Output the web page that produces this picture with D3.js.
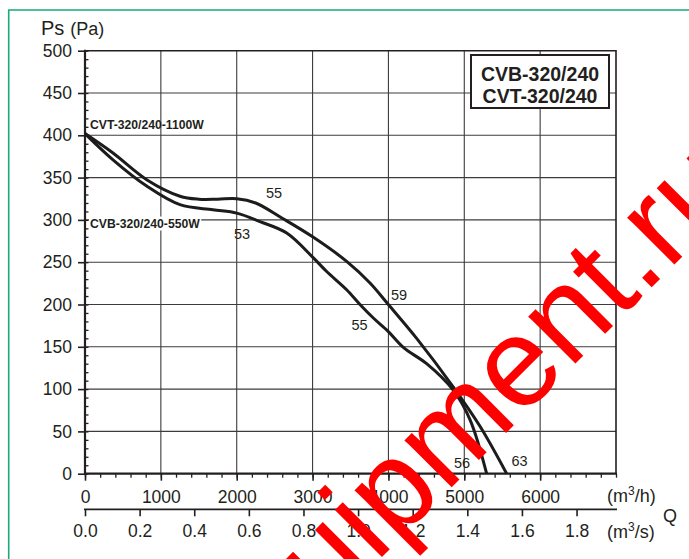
<!DOCTYPE html>
<html><head><meta charset="utf-8">
<script src="https://cdn.jsdelivr.net/npm/d3@7"></script>
<style>
body{margin:0;background:#fff}
svg{display:block}
text{font-family:"Liberation Sans",Arial,sans-serif;fill:#231f20}
</style>
</head><body>
<svg id="chart" width="689" height="559"></svg>
<script>
// ---- data ----
const flowTicksH = [0, 1000, 2000, 3000, 4000, 5000, 6000];
const flowTicksS = [0.0, 0.2, 0.4, 0.6, 0.8, 1.0, 1.2, 1.4, 1.6, 1.8];
const pressureTicks = [0, 50, 100, 150, 200, 250, 300, 350, 400, 450, 500];

const cvtFlow = [0, 369, 813, 1252, 1500, 1750, 2000, 2250, 2600, 3001, 3449, 3757, 3999, 4372, 4851, 5207, 5559];
const cvtPressure = [402, 379, 347.5, 328, 324.5, 324.5, 325, 320, 302, 280, 251, 225.5, 200, 160, 103, 56, 0];

const cvbFlow = [0, 369, 813, 1252, 1687, 2000, 2307, 2659, 3001, 3186, 3449, 3625, 3801, 3999, 4200, 4504, 4851, 5075, 5295];
const cvbPressure = [402, 371, 340, 318, 312, 308, 298, 284.5, 256, 239, 217.5, 200, 184, 168, 149, 130, 99, 64, 0];

const noiseLabels = ["55", "53", "59", "55", "56", "63"];
const noiseFlow = [2491, 2070, 4139, 3619, 4970, 5728];
const noisePressure = [326, 278, 205, 170, 7, 9];

const modelNames = ["CVB-320/240", "CVT-320/240"];
const curveNames = ["CVT-320/240-1100W", "CVB-320/240-550W"];
const curveNamePressure = [408, 291];

// ---- layout ----
const svg = d3.select("#chart");
const L = 85, R = 616, T = 50.7, B = 473.7;
const qMax = 7000;
const x = d3.scaleLinear().domain([0, qMax]).range([L, R]);
const xs = d3.scaleLinear().domain([0, qMax / 3600]).range([L, R]);
const y = d3.scaleLinear().domain([0, 500]).range([B, T]);
const ink = "#231f20";

// green frame
svg.append("path").attr("d", `M8.7,561 V10 H691`).attr("fill", "none")
  .attr("stroke", "#1aa97b").attr("stroke-width", 1.6);

// grid
const grid = svg.append("g").attr("stroke", "#3c3c3c").attr("stroke-width", 1.1);
grid.selectAll("line.v").data(flowTicksH.filter(d => d > 0)).join("line")
  .attr("x1", d => x(d)).attr("x2", d => x(d)).attr("y1", T).attr("y2", B);
grid.selectAll("line.h").data(pressureTicks.filter(d => d > 0 && d < 500)).join("line")
  .attr("x1", L).attr("x2", R).attr("y1", d => y(d)).attr("y2", d => y(d));

// frame top / right
svg.append("path").attr("d", `M${L},${T} H${R} V${B}`).attr("fill", "none")
  .attr("stroke", ink).attr("stroke-width", 1.6);

// y axis
const yAxis = svg.append("g").attr("transform", `translate(${L},0)`)
  .call(d3.axisLeft(y).tickValues(pressureTicks).tickSize(7).tickPadding(6).tickFormat(d3.format("d")));
yAxis.select(".domain").remove();
yAxis.selectAll("line").attr("stroke", ink).attr("stroke-width", 1.6);
yAxis.selectAll("text").attr("font-size", 17.5).attr("fill", ink).attr("font-family", "Liberation Sans, Arial, sans-serif");
const yMinor = svg.append("g").attr("transform", `translate(${L},0)`)
  .call(d3.axisRight(y).tickValues(d3.range(0, 501, 10)).tickSize(3.5).tickFormat(""));
yMinor.select(".domain").remove();
yMinor.selectAll("line").attr("stroke", ink).attr("stroke-width", 1.3);

// x axis (m3/h)
const xAxis = svg.append("g").attr("transform", `translate(0,${B})`)
  .call(d3.axisBottom(x).tickValues(flowTicksH).tickSize(7).tickPadding(10).tickFormat(d3.format("d")));
xAxis.select(".domain").remove();
xAxis.selectAll("line").attr("stroke", ink).attr("stroke-width", 1.6);
xAxis.selectAll("text").attr("font-size", 17.5).attr("fill", ink).attr("font-family", "Liberation Sans, Arial, sans-serif");
const xMinor = svg.append("g").attr("transform", `translate(0,${B})`)
  .call(d3.axisBottom(x).tickValues(d3.range(0, qMax + 1, 200)).tickSize(4).tickFormat(""));
xMinor.select(".domain").remove();
xMinor.selectAll("line").attr("stroke", ink).attr("stroke-width", 1.3);

// axis lines
svg.append("line").attr("x1", L).attr("x2", L).attr("y1", T - 1).attr("y2", B + 1)
  .attr("stroke", ink).attr("stroke-width", 2.2);
svg.append("line").attr("x1", L - 1).attr("x2", R + 1).attr("y1", B).attr("y2", B)
  .attr("stroke", ink).attr("stroke-width", 2.2);

// x axis (m3/s)
const ySec = 509.3;
const sAxis = svg.append("g").attr("transform", `translate(0,${ySec})`)
  .call(d3.axisBottom(xs).tickValues(flowTicksS).tickSize(7).tickPadding(8).tickFormat(d3.format(".1f")));
sAxis.select(".domain").remove();
sAxis.selectAll("line").attr("stroke", ink).attr("stroke-width", 1.6);
sAxis.selectAll("text").attr("font-size", 17.5).attr("fill", ink).attr("font-family", "Liberation Sans, Arial, sans-serif");
svg.append("line").attr("x1", L - 1).attr("x2", R + 1).attr("y1", ySec).attr("y2", ySec)
  .attr("stroke", ink).attr("stroke-width", 1.8);

// curves
const line = d3.line().x(d => x(d[0])).y(d => y(d[1])).curve(d3.curveCatmullRom.alpha(0.5));
const curves = [d3.zip(cvtFlow, cvtPressure), d3.zip(cvbFlow, cvbPressure)];
svg.selectAll("path.curve").data(curves).join("path").attr("class", "curve")
  .attr("d", line).attr("fill", "none").attr("stroke", "#1c1c1c")
  .attr("stroke-width", 3).attr("stroke-linejoin", "round");

// noise labels
svg.selectAll("text.noise").data(noiseLabels).join("text").attr("class", "noise")
  .attr("x", (d, i) => x(noiseFlow[i])).attr("y", (d, i) => y(noisePressure[i]))
  .attr("text-anchor", "middle").attr("font-size", 14.5).text(d => d);

// curve names
curveNames.forEach((n, i) => {
  const t = svg.append("text").attr("x", L + 5).attr("y", y(curveNamePressure[i]))
    .attr("font-size", 12.2).attr("font-weight", "bold").text(n);
  if (i === 1) {
    const bb = t.node().getBBox();
    svg.insert("rect", () => t.node()).attr("x", bb.x - 1).attr("y", bb.y)
      .attr("width", bb.width + 2).attr("height", bb.height).attr("fill", "#fff");
  }
});

// model box
svg.append("rect").attr("x", 471).attr("y", 55).attr("width", 138).attr("height", 53)
  .attr("fill", "#fff").attr("stroke", ink).attr("stroke-width", 2);
modelNames.forEach((n, i) => {
  svg.append("text").attr("x", 540).attr("y", 80.5 + i * 22.5).attr("text-anchor", "middle")
    .attr("font-size", 19.5).attr("font-weight", "bold").text(n);
});

// axis titles
const ps = svg.append("text").attr("x", 41).attr("y", 34.5);
ps.append("tspan").attr("font-size", 20).text("Ps");
ps.append("tspan").attr("font-size", 18).attr("dx", 6).text("(Pa)");

const u1 = svg.append("text").attr("x", 607).attr("y", 501.5).attr("font-size", 18);
u1.append("tspan").text("(m");
u1.append("tspan").attr("font-size", 12).attr("dy", -7).text("3");
u1.append("tspan").attr("dy", 7).text("/h)");
const u2 = svg.append("text").attr("x", 607).attr("y", 538).attr("font-size", 18);
u2.append("tspan").text("(m");
u2.append("tspan").attr("font-size", 12).attr("dy", -7).text("3");
u2.append("tspan").attr("dy", 7).text("/s)");
svg.append("text").attr("x", 663).attr("y", 522).attr("font-size", 18).text("Q");

// watermark
svg.append("text").attr("transform", "translate(227.4,711.6) rotate(-45)")
  .attr("font-size", 126).style("fill", "#ff0000").text("equipment.ru");
</script>
</body></html>
